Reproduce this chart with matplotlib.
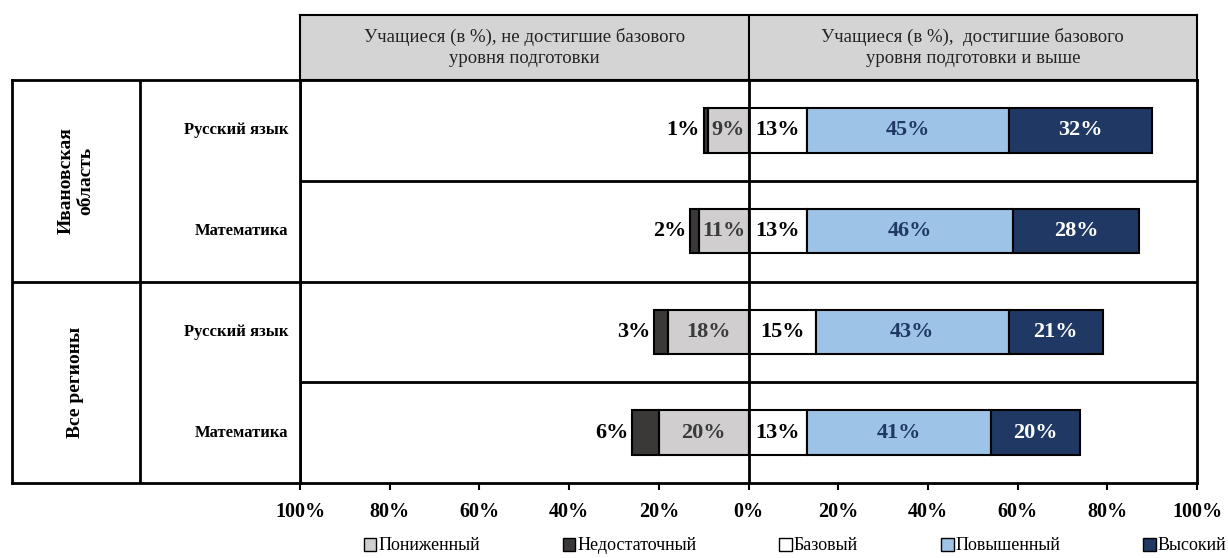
import matplotlib
matplotlib.use('Agg')
from matplotlib import pyplot as plt
import numpy as np

plt.rcParams['font.family'] = ['Liberation Serif', 'DejaVu Serif']

regions = ['Ивановская\nобласть', 'Все регионы']
subjects = ['Русский язык', 'Математика', 'Русский язык', 'Математика']
series_names = ['Пониженный', 'Недостаточный', 'Базовый', 'Повышенный', 'Высокий']

lowered = [9, 11, 18, 20]
insufficient = [1, 2, 3, 6]
basic = [13, 13, 15, 13]
raised = [45, 46, 43, 41]
high = [32, 28, 21, 20]

tick_values = [-100, -80, -60, -40, -20, 0, 20, 40, 60, 80, 100]
tick_labels = ['100%', '80%', '60%', '40%', '20%', '0%', '20%', '40%', '60%', '80%', '100%']

header_left = 'Учащиеся (в %), не достигшие базового\nуровня подготовки'
header_right = 'Учащиеся (в %),  достигшие базового\nуровня подготовки и выше'

colors = {
    'Пониженный': '#d0cece',
    'Недостаточный': '#3b3838',
    'Базовый': '#ffffff',
    'Повышенный': '#9dc3e6',
    'Высокий': '#1f3864',
}

W, H = 1228, 558
fig = plt.figure(figsize=(W / 100, H / 100), dpi=100)


def fig_rect(x0, y0, x1, y1):
    return [x0 / W, 1 - y1 / H, (x1 - x0) / W, (y1 - y0) / H]


# main plot
ax = fig.add_axes(fig_rect(300, 80, 1197, 483))
y = np.arange(len(subjects))
bar_h = 0.44
edge = dict(edgecolor='black', linewidth=1.5)

low = -np.array(lowered)
ins = -np.array(insufficient)
ax.barh(y, low, height=bar_h, color=colors['Пониженный'], label='Пониженный', **edge)
ax.barh(y, ins, left=low, height=bar_h, color=colors['Недостаточный'], label='Недостаточный', **edge)
ax.barh(y, basic, height=bar_h, color=colors['Базовый'], label='Базовый', **edge)
ax.barh(y, raised, left=basic, height=bar_h, color=colors['Повышенный'], label='Повышенный', **edge)
ax.barh(y, high, left=np.array(basic) + np.array(raised), height=bar_h,
        color=colors['Высокий'], label='Высокий', **edge)

fs = 16
for i in range(len(subjects)):
    ax.text(-lowered[i] / 2, i, f'{lowered[i]}%', ha='center', va='center',
            fontsize=fs, fontweight='bold', color='#3a3a3a')
    ax.text(-lowered[i] - insufficient[i] - 0.8, i, f'{insufficient[i]}%', ha='right',
            va='center', fontsize=fs, fontweight='bold', color='black')
    ax.text(basic[i] / 2, i, f'{basic[i]}%', ha='center', va='center',
            fontsize=fs, fontweight='bold', color='black')
    ax.text(basic[i] + raised[i] / 2, i, f'{raised[i]}%', ha='center', va='center',
            fontsize=fs, fontweight='bold', color='#1f3864')
    ax.text(basic[i] + raised[i] + high[i] / 2, i, f'{high[i]}%', ha='center',
            va='center', fontsize=fs, fontweight='bold', color='white')

ax.set_xlim(-100, 100)
ax.set_ylim(len(subjects) - 0.5, -0.5)
ax.set_yticks([])
ax.set_xticks(tick_values)
ax.set_xticklabels(tick_labels, fontsize=14.5, fontweight='bold')
ax.tick_params(axis='x', length=5, width=1.5, pad=9)
ax.axvline(0, color='black', linewidth=2)
for k in range(1, len(subjects)):
    ax.axhline(k - 0.5, color='black', linewidth=2)
for s in ax.spines.values():
    s.set_linewidth(2)

# header
hax = fig.add_axes(fig_rect(300, 15, 1197, 80))
hax.set_facecolor('#d4d4d4')
hax.set_xlim(-100, 100)
hax.set_ylim(0, 1)
hax.set_xticks([])
hax.set_yticks([])
hax.axvline(0, color='black', linewidth=1.5)
hax.text(-50, 0.5, header_left, ha='center', va='center', fontsize=13.5,
         linespacing=1.25, color='#222222')
hax.text(50, 0.5, header_right, ha='center', va='center', fontsize=13.5,
         linespacing=1.25, color='#222222')
for s in hax.spines.values():
    s.set_linewidth(1.5)

# left table
tax = fig.add_axes(fig_rect(12, 80, 300, 483))
tax.set_xlim(0, 1)
tax.set_ylim(len(subjects), 0)
tax.set_xticks([])
tax.set_yticks([])
col = (140 - 12) / (300 - 12)
tax.axvline(col, color='black', linewidth=2)
tax.axhline(2, color='black', linewidth=2)
for s in tax.spines.values():
    s.set_linewidth(2)
for i, name in enumerate(regions):
    tax.text(col / 2, 2 * i + 1, name, rotation=90, ha='center', va='center',
             fontsize=14, fontweight='bold', linespacing=1.2)
for i, name in enumerate(subjects):
    tax.text(0.96, i + 0.5, name, ha='right', va='center', fontsize=12,
             fontweight='bold')

# legend
handles, labels = ax.get_legend_handles_labels()
leg = fig.legend(handles, labels, loc='center', bbox_to_anchor=(795 / W, 1 - 546 / H),
                 ncol=5, frameon=False, fontsize=13, handlelength=0.7, handleheight=0.7,
                 handletextpad=0.1, columnspacing=4.6)
for h in leg.legend_handles:
    h.set_linewidth(1)

fig.savefig('out.png', dpi=100)
